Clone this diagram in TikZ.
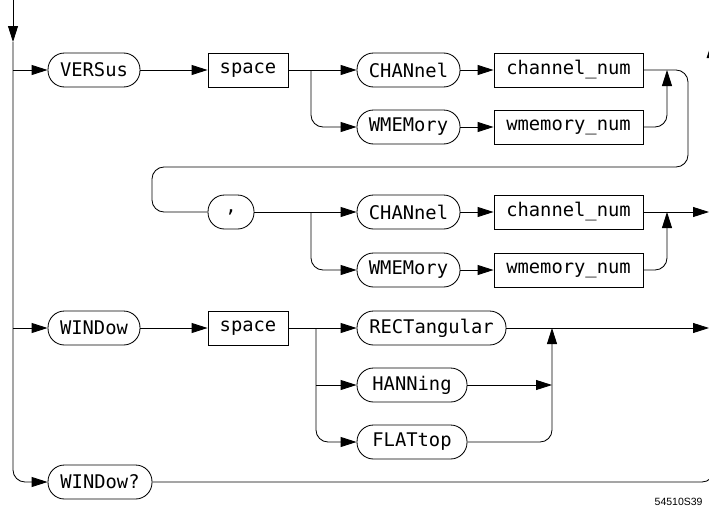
\documentclass[tikz,border=0pt]{standalone}
\usepackage{fontspec}
\newfontfamily\mono{DejaVu Sans Mono}
\newfontfamily\lbl{Liberation Sans}
\usetikzlibrary{arrows.meta}
\begin{document}
\begin{tikzpicture}[x=1pt,y=-1pt,line width=0.85pt,
  kw/.style={draw, rounded corners=16.5pt, minimum height=34pt, inner sep=0pt, font=\mono\fontsize{18.8}{20}\selectfont},
  bx/.style={draw, minimum height=34pt, inner sep=0pt, font=\mono\fontsize{18.8}{20}\selectfont},
  arr/.style={-{Triangle[length=16pt,width=10pt]}},
  rc/.style={rounded corners=12pt}]
\useasboundingbox (0,0) rectangle (709,506);
% nodes
\node[kw, minimum width=92pt] (versus) at (94,70) {VERSus};
\node[bx, minimum width=80pt] (space1) at (248,70) {space};
\node[kw, minimum width=103pt] (chan1) at (408.5,70) {CHANnel};
\node[bx, minimum width=149pt] (cnum1) at (568.5,70) {channel\_num};
\node[kw, minimum width=103pt] (wmem1) at (408.5,127) {WMEMory};
\node[bx, minimum width=149pt] (wnum1) at (568.5,127) {wmemory\_num};
\node[kw, minimum width=46pt] (comma) at (231,212) {,};
\node[kw, minimum width=103pt] (chan2) at (408.5,212) {CHANnel};
\node[bx, minimum width=149pt] (cnum2) at (568.5,212) {channel\_num};
\node[kw, minimum width=103pt] (wmem2) at (408.5,270) {WMEMory};
\node[bx, minimum width=149pt] (wnum2) at (568.5,270) {wmemory\_num};
\node[kw, minimum width=92pt] (window) at (94,328) {WINDow};
\node[bx, minimum width=80pt] (space2) at (248,328) {space};
\node[kw, minimum width=149pt] (rect) at (431.5,328) {RECTangular};
\node[kw, minimum width=110pt] (hann) at (412,385) {HANNing};
\node[kw, minimum width=110pt] (flat) at (412,442) {FLATtop};
\node[kw, minimum width=104pt] (windowq) at (100,482) {WINDow?};
\node[anchor=base east, inner sep=0pt, font=\lbl\fontsize{10.5}{11}\selectfont] (fig) at (703,505) {54510S39};
% coordinates
\coordinate (top) at (13,0);
\coordinate (mid) at (13,42);
\coordinate (b1) at (311,70);
\coordinate (b2) at (311,212);
\coordinate (b3) at (316,328);
\coordinate (j1) at (667,70);
\coordinate (j2) at (667,212);
\coordinate (j3) at (552,328);
\coordinate (j4) at (552,385);
\coordinate (out2) at (709,212);
\coordinate (out3) at (709,328);
% main line
\draw[arr] (top) -- (mid);
\draw[arr, rc] (mid) -- (13,482) -- (windowq.west);
\draw[arr] (13,70) -- (versus.west);
\draw[arr] (13,328) -- (window.west);
% VERSus row
\draw[arr] (versus.east) -- (space1.west);
\draw[arr] (space1.east) -- (chan1.west);
\draw[arr, rc] (b1) |- (wmem1.west);
\draw[arr] (chan1.east) -- (cnum1.west);
\draw[arr] (wmem1.east) -- (wnum1.west);
\draw[arr, rc] (wnum1.east) -| (j1);
\draw[rc] (cnum1.east) -- (688,70) -- (688,167) -- (152,167) -- (152,212) -- (comma.west);
% comma row
\draw[arr] (comma.east) -- (chan2.west);
\draw[arr, rc] (b2) |- (wmem2.west);
\draw[arr] (chan2.east) -- (cnum2.west);
\draw[arr] (wmem2.east) -- (wnum2.west);
\draw[arr] (cnum2.east) -- (out2);
\draw[arr, rc] (wnum2.east) -| (j2);
% WINDow row
\draw[arr] (window.east) -- (space2.west);
\draw[arr] (space2.east) -- (rect.west);
\draw[arr] (b3 |- hann.west) -- (hann.west);
\draw[arr, rc] (b3) |- (flat.west);
\draw[arr] (rect.east) -- (out3);
\draw[arr] (hann.east) -- (j4);
\draw[arr, rc] (flat.east) -| (j3);
% WINDow? row
\draw[rc] (windowq.east) -- (714,482) -- (714,420);
% fragment of an arrow tip at the edge
\fill (709,50.5) -- (706.5,58) -- (709,58) -- cycle;
\end{tikzpicture}
\end{document}
